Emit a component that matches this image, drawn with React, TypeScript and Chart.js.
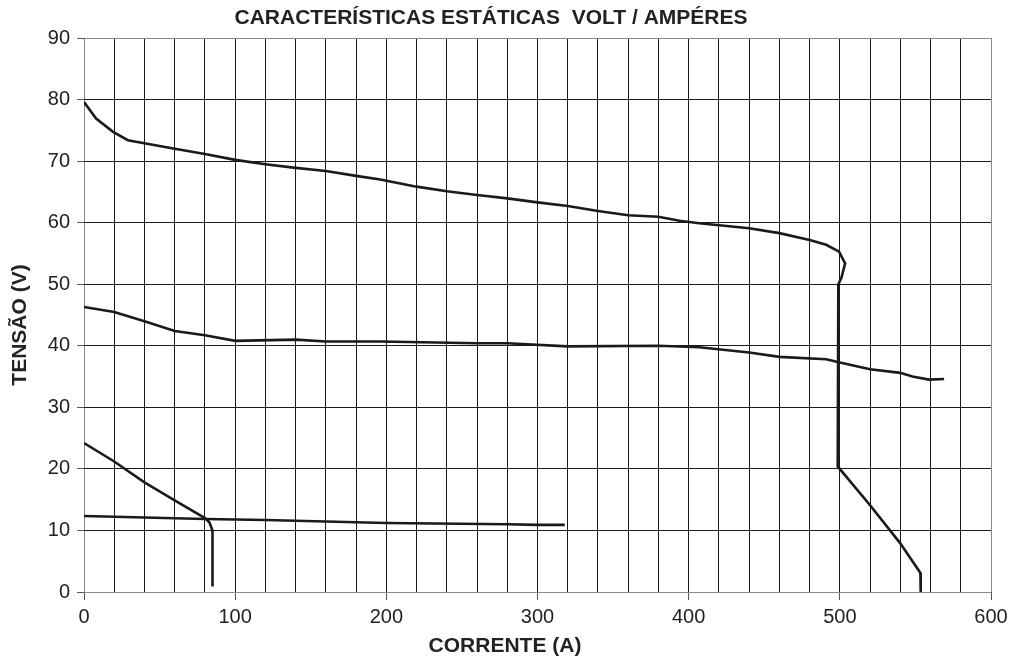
import React, { useEffect, useRef } from "react";
import { Chart, registerables } from "chart.js";

Chart.register(...registerables);

const titleText = "CARACTERÍSTICAS ESTÁTICAS  VOLT / AMPÉRES";
const xTitle = "CORRENTE (A)";
const yTitle = "TENSÃO (V)";

const xMin = 0;
const xMax = 600;
const xStep = 20;
const xLabelStep = 100;
const yMin = 0;
const yMax = 90;
const yStep = 10;

// Curve 1: high open-circuit curve with vertical drop near 500 A
const curve1Current = [0, 8, 19, 29, 60, 80, 100, 120, 140, 160, 180, 196, 220, 240, 260, 280, 300, 320, 340, 360, 380, 394, 407, 440, 460, 480, 491, 499.5, 503.5, 501, 499, 498.6, 520, 540, 553.3, 553.5];
const curve1Voltage = [79.6, 76.9, 74.8, 73.4, 72.0, 71.15, 70.2, 69.5, 68.9, 68.4, 67.6, 67.0, 65.85, 65.1, 64.5, 63.95, 63.3, 62.7, 61.9, 61.2, 60.97, 60.3, 59.9, 59.1, 58.3, 57.2, 56.4, 55.3, 53.4, 51.0, 50.0, 20.4, 14.1, 7.9, 3.1, 0];

// Curve 2: middle curve ~40 V
const curve2Current = [0, 20, 40, 60, 80, 100, 140, 160, 196, 260, 280, 320, 380, 407, 440, 460, 491, 500, 520, 540, 548, 559, 569];
const curve2Voltage = [46.3, 45.5, 44.0, 42.4, 41.7, 40.8, 41.0, 40.7, 40.7, 40.4, 40.4, 39.9, 40.0, 39.75, 38.9, 38.2, 37.8, 37.3, 36.2, 35.6, 35.0, 34.5, 34.6];

// Curve 3: steep low curve from 24 V
const curve3Current = [0, 20, 40, 60, 80, 83, 85, 85];
const curve3Voltage = [24.2, 21.2, 17.8, 14.9, 12.0, 11.3, 10.0, 0.9];

// Curve 4: flat low curve ~12 V
const curve4Current = [0, 80, 120, 200, 280, 300, 318];
const curve4Voltage = [12.35, 11.85, 11.7, 11.2, 11.0, 10.9, 10.9];

const FONT = "'Liberation Sans', Arial, Helvetica, sans-serif";
const LINE_COLOR = "#1a1a1a";

function toPoints(xs: number[], ys: number[]) {
  return xs.map((x, i) => ({ x, y: ys[i] }));
}

const titlesPlugin = {
  id: "customTitles",
  afterDraw(chart: any) {
    const ctx = chart.ctx;
    ctx.save();
    ctx.fillStyle = "#222";
    ctx.font = `bold 21px ${FONT}`;
    ctx.textAlign = "center";
    ctx.textBaseline = "middle";
    ctx.fillText(titleText, 491, 18);
    ctx.fillText(xTitle, 505, 646);
    ctx.translate(20, 325);
    ctx.rotate(-Math.PI / 2);
    ctx.fillText(yTitle, 0, 0);
    ctx.restore();
  },
};

export default function App() {
  const canvasRef = useRef<HTMLCanvasElement | null>(null);

  useEffect(() => {
    if (!canvasRef.current) return;
    const mk = (xs: number[], ys: number[]) => ({
      data: toPoints(xs, ys),
      showLine: true,
      borderColor: LINE_COLOR,
      backgroundColor: LINE_COLOR,
      borderWidth: 2.6,
      pointRadius: 0,
      tension: 0,
      fill: false,
    });
    const chart = new Chart(canvasRef.current, {
      type: "scatter",
      data: {
        datasets: [
          mk(curve1Current, curve1Voltage),
          mk(curve2Current, curve2Voltage),
          mk(curve3Current, curve3Voltage),
          mk(curve4Current, curve4Voltage),
        ],
      },
      options: {
        animation: false,
        responsive: false,
        maintainAspectRatio: false,
        devicePixelRatio: 1,
        layout: { padding: { top: 38, left: 0, right: 22, bottom: 0 } },
        plugins: {
          legend: { display: false },
          title: { display: false },
          tooltip: { enabled: false },
        },
        scales: {
          x: {
            type: "linear",
            min: xMin,
            max: xMax,
            afterFit: (s: any) => {
              s.height = 70;
            },
            afterBuildTicks: (s: any) => {
              const t = [];
              for (let v = xMin; v <= xMax; v += xStep) t.push({ value: v });
              s.ticks = t;
            },
            ticks: {
              autoSkip: false,
              maxRotation: 0,
              padding: 5,
              color: "#222",
              font: { family: FONT, size: 20 },
              callback: (v: any) => (Number(v) % xLabelStep === 0 ? String(v) : ""),
            },
            grid: {
              lineWidth: 1,
              tickLength: 8,
              color: (c: any) =>
                c.tick && (c.tick.value === xMin || c.tick.value === xMax) ? "#8a8a8a" : "#1a1a1a",
              tickColor: (c: any) =>
                c.tick && c.tick.value % xLabelStep === 0 ? "#555" : "rgba(0,0,0,0)",
            },
            border: { display: false },
          },
          y: {
            type: "linear",
            min: yMin,
            max: yMax,
            afterFit: (s: any) => {
              s.width = 84;
            },
            ticks: {
              stepSize: yStep,
              padding: 7,
              color: "#222",
              font: { family: FONT, size: 20 },
            },
            grid: {
              lineWidth: 1,
              tickLength: 7,
              color: (c: any) =>
                c.tick && (c.tick.value === yMin || c.tick.value === yMax) ? "#8a8a8a" : "#1a1a1a",
              tickColor: "#555",
            },
            border: { display: false },
          },
        },
      },
      plugins: [titlesPlugin],
    } as any);
    return () => chart.destroy();
  }, []);

  return (
    <div style={{ position: "absolute", left: 0, top: 0, width: 1013, height: 662, background: "#fff" }}>
      <canvas ref={canvasRef} width={1013} height={662} style={{ display: "block", width: 1013, height: 662 }} />
    </div>
  );
}
